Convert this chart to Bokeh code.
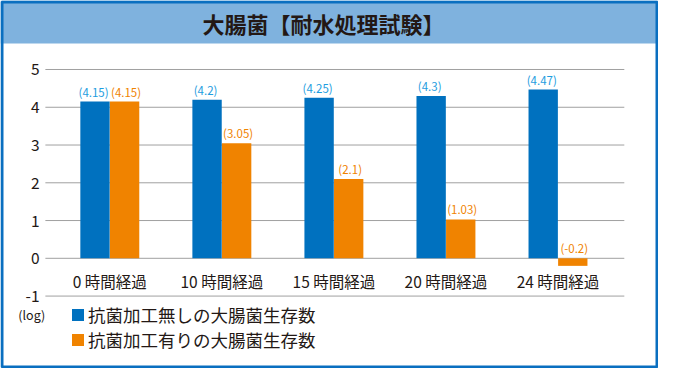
from bokeh.plotting import figure
from bokeh.models import Range1d, ColumnDataSource, BoxAnnotation, Legend, LegendItem
from bokeh.core.properties import value
from bokeh.transform import dodge
from bokeh.embed import file_html
from bokeh.resources import INLINE

# ---- data ----
title = "大腸菌【耐水処理試験】"
categories = ["0 時間経過", "10 時間経過", "15 時間経過", "20 時間経過", "24 時間経過"]
untreated = [4.15, 4.2, 4.25, 4.3, 4.47]
treated = [4.15, 3.05, 2.1, 1.03, -0.2]
series_names = ["抗菌加工無しの大腸菌生存数", "抗菌加工有りの大腸菌生存数"]
y_ticks = [5, 4, 3, 2, 1, 0, -1]
unit_label = "(log)"

# ---- style ----
W, H = 658, 368
X0, X1 = -0.9755, 4.897
Y0, Y1 = -2.918, 6.827
FONT = "Noto Sans CJK JP"
BLUE = "#0071bf"
ORANGE = "#f08300"
LBLUE = "#1e9de0"
TXT = "#231815"
GRID = "#a0a0a0"
BORDER = "#0a6fc0"
BAND = "#7fb2de"

xs = list(range(len(categories)))
src = ColumnDataSource(dict(
    x=xs, cat=categories, a=untreated, b=treated,
    la=[f"({v:g})" for v in untreated], lb=[f"({v:g})" for v in treated],
    ya=[max(v, 0) for v in untreated], yb=[max(v, 0) for v in treated],
))

p = figure(width=W, height=H, output_backend="svg", toolbar_location=None,
           x_range=Range1d(X0, X1), y_range=Range1d(Y0, Y1),
           x_axis_location=None, y_axis_location=None, min_border=0)
p.xgrid.visible = False
p.ygrid.visible = False
p.background_fill_color = "white"
p.border_fill_color = "white"
p.outline_line_color = None

ux = (X1 - X0) / W
uy = (Y1 - Y0) / H

# title band
p.add_layout(BoxAnnotation(bottom=5.686, fill_color=BAND, fill_alpha=1.0,
                           line_alpha=0, level="underlay"))
p.text(x=[1.908], y=[6.218], text=[title], text_align="center", text_baseline="middle",
       text_font=value(FONT), text_font_style="bold", text_font_size="22px", text_color=TXT)

# grid lines
p.segment(x0=-0.575, x1=4.592, y0=y_ticks, y1=y_ticks, line_color=GRID, line_width=1)

# y tick labels
p.text(x=-0.627, y=y_ticks, text=[str(t) for t in y_ticks], text_align="right",
       text_baseline="middle", text_font=value(FONT), text_font_size="15.5px", text_color=TXT)
p.text(x=[-0.697], y=[-1.496], text=[unit_label], text_align="center", text_baseline="middle",
       text_font=value(FONT), text_font_size="12.5px", text_color=TXT)

# bars
r1 = p.vbar(x=dodge("x", -0.132), top="a", bottom=0, width=0.262, source=src,
            fill_color=BLUE, line_color=None)
r2 = p.vbar(x=dodge("x", 0.132), top="b", bottom=0, width=0.262, source=src,
            fill_color=ORANGE, line_color=None)

# value labels
p.text(x=dodge("x", -0.145), y="ya", text="la", source=src, text_align="center",
       text_baseline="bottom", y_offset=-2, text_font=value(FONT), text_font_size="11.5px",
       text_color=LBLUE)
p.text(x=dodge("x", 0.145), y="yb", text="lb", source=src, text_align="center",
       text_baseline="bottom", y_offset=-2, text_font=value(FONT), text_font_size="11.5px",
       text_color=ORANGE)

# category labels
p.text(x="x", y=-0.609, text="cat", source=src, text_align="center", text_baseline="middle",
       text_font=value(FONT), text_font_size="15.5px", text_color=TXT)

legend = Legend(items=[LegendItem(label=series_names[0], renderers=[r1]),
                       LegendItem(label=series_names[1], renderers=[r2])],
                location=(70, 16), orientation="vertical",
                glyph_width=15, glyph_height=15, label_height=20, spacing=0,
                padding=0, margin=0, border_line_alpha=0, background_fill_alpha=0,
                label_standoff=3, label_text_font=FONT, label_text_font_size="17.5px",
                label_text_color=TXT)
p.add_layout(legend)

# outer frame border
p.quad(left=[X0 + 1.5 * ux], right=[X1 - 1.5 * ux], bottom=[Y0 + 1.5 * uy], top=[Y1 - 1.5 * uy],
       fill_alpha=0, line_color=BORDER, line_width=3)

open("out.html", "w").write(file_html(p, INLINE))
